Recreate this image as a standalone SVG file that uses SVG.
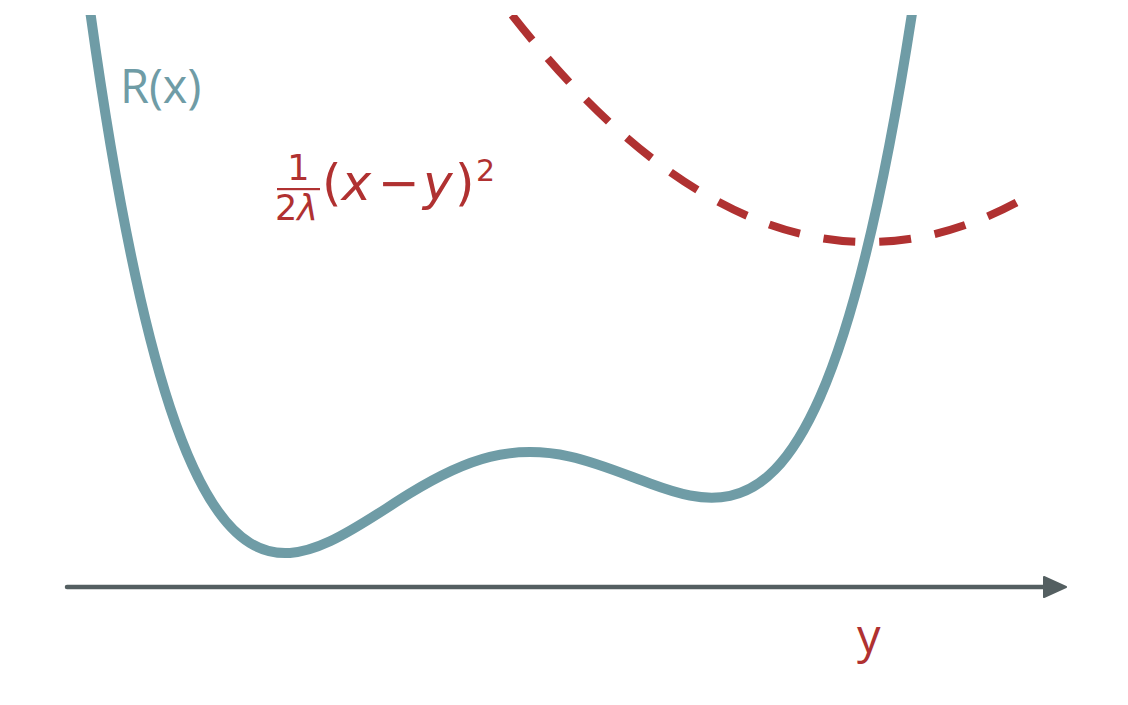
<svg xmlns="http://www.w3.org/2000/svg" width="1128" height="705" viewBox="0 0 1128 705">
<style>
.teal{fill:none;stroke:#6f9ca6;stroke-width:10}
.red{fill:none;stroke:#b03131;stroke-width:8;stroke-dasharray:32 24}
.axis{fill:none;stroke:#545f61;stroke-width:4.5;stroke-linecap:round}
.lbl{font-family:"Open Sans","Noto Sans",sans-serif;font-size:47px}
.math{font-family:"DejaVu Sans",sans-serif;fill:#b03131}
.it{font-style:italic}
</style>
<defs>
<clipPath id="plot"><rect x="0" y="15" width="1128" height="690"/></clipPath>
<marker id="arrow" markerUnits="userSpaceOnUse" viewBox="0 0 24 22" refX="7" refY="11" markerWidth="24" markerHeight="22" orient="auto">
<path d="M1,1 L23,11 L1,21 Z" fill="#545f61" stroke="#545f61" stroke-width="2" stroke-linejoin="round"/>
</marker>
</defs>
<rect width="1128" height="705" fill="#ffffff"/>
<g id="connectors">
<line id="axis" class="axis" x1="67" y1="587" x2="1050" y2="587" marker-end="url(#arrow)"/>
</g>
<g id="curve-R" clip-path="url(#plot)">
<path class="teal" d="M90,10.14 C116.67,202.73 143.33,326.38 170,407.36 C196.67,488.34 223.33,526.64 250,542.98 C276.67,559.32 303.33,553.70 330,541.29 C356.67,528.88 383.33,509.69 410,493.34 C436.67,476.99 463.33,463.49 490,456.92 C516.67,450.35 543.33,450.72 570,456.56 C596.67,462.40 623.33,473.72 650,483.52 C676.67,493.32 703.33,501.60 730,495.82 C760,489.32 790,465.17 820,397.14 C851.33,326.09 882.67,207.24 914,0.36"/>
</g>
<g id="curve-quad" clip-path="url(#plot)">
<path class="red" d="M512,15 Q766,338.9 1020,200.62"/>
</g>
<g id="label-R">
<text class="lbl" x="120" y="103" fill="#6f9ca6">R(x)</text>
</g>
<g id="label-formula">
<text class="math" x="298.5" y="180" font-size="35" text-anchor="middle">1</text>
<rect x="277" y="188" width="43" height="2.2" fill="#b03131"/>
<text class="math" x="296.5" y="220" font-size="35" text-anchor="middle">2<tspan class="it">λ</tspan></text>
<text class="math" x="322" y="200" font-size="50">(<tspan class="it">x</tspan><tspan dx="7">−</tspan><tspan class="it" dx="3">y</tspan><tspan dx="2.4">)</tspan></text>
<text class="math" x="476" y="181" font-size="30">2</text>
</g>
<g id="label-y">
<text class="lbl" x="857" y="653" fill="#b03131">y</text>
</g>
</svg>
